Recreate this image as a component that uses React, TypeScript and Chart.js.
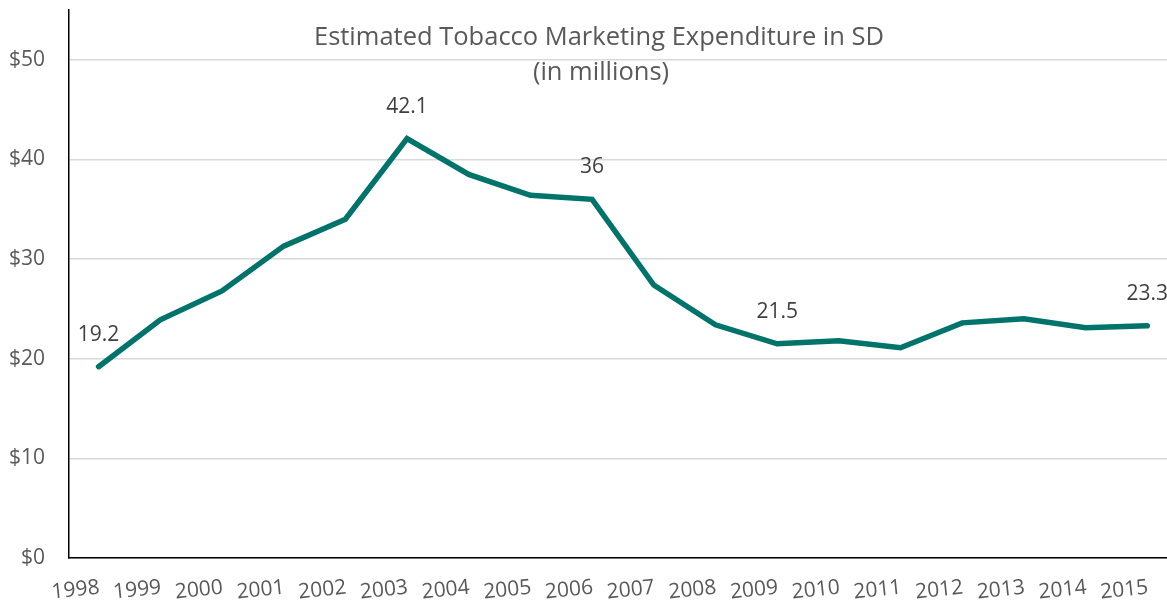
import React, { useEffect, useRef } from "react";
import { Chart, registerables } from "chart.js";

Chart.register(...registerables);

const years = [1998, 1999, 2000, 2001, 2002, 2003, 2004, 2005, 2006, 2007, 2008, 2009, 2010, 2011, 2012, 2013, 2014, 2015];
const spending = [19.2, 23.9, 26.8, 31.3, 34.0, 42.1, 38.5, 36.4, 36.0, 27.4, 23.4, 21.5, 21.8, 21.1, 23.6, 24.0, 23.1, 23.3];
const labelledYears = [1998, 2003, 2006, 2009, 2015];
const yTicks = [0, 10, 20, 30, 40, 50];
const titleLines = ["Estimated Tobacco Marketing Expenditure in SD", "(in millions)"];

const FONT = "'Open Sans', 'Noto Sans', sans-serif";

const overlayPlugin = {
  id: "overlay",
  afterDraw(chart: any) {
    const ctx = chart.ctx;
    const xs = chart.scales.x;
    ctx.save();
    // title
    ctx.fillStyle = "#595959";
    ctx.font = `25.5px ${FONT}`;
    ctx.textAlign = "center";
    ctx.textBaseline = "alphabetic";
    ctx.fillText(titleLines[0], 599, 45);
    ctx.fillText(titleLines[1], 601, 80);
    // x labels (slightly tilted, shifted left of points)
    ctx.font = `21px ${FONT}`;
    ctx.textBaseline = "middle";
    years.forEach((yr) => {
      const x = xs.getPixelForValue(yr) - 23;
      ctx.save();
      ctx.translate(x, 590);
      ctx.rotate((-6 * Math.PI) / 180);
      ctx.fillText(String(yr), 0, 0);
      ctx.restore();
    });
    // data labels
    const meta = chart.getDatasetMeta(0);
    ctx.fillStyle = "#404040";
    ctx.font = `21px ${FONT}`;
    labelledYears.forEach((yr) => {
      const i = years.indexOf(yr);
      const pt = meta.data[i];
      ctx.fillText(String(spending[i]), pt.x, pt.y - 32);
    });
    ctx.restore();
  },
};

export default function App() {
  const ref = useRef<HTMLCanvasElement>(null);
  useEffect(() => {
    document.body.style.margin = "0";
    const chart = new Chart(ref.current!, {
      type: "line",
      data: {
        datasets: [
          {
            data: years.map((y, i) => ({ x: y, y: spending[i] })),
            borderColor: "#00736B",
            borderWidth: 5.5,
            pointRadius: 0,
            borderCapStyle: "round",
            borderJoinStyle: "miter",
            tension: 0,
            fill: false,
          },
        ],
      },
      options: {
        animation: false,
        responsive: false,
        devicePixelRatio: 1,
        layout: { padding: { top: 10, right: 0, left: 0, bottom: 0 } },
        plugins: { legend: { display: false }, tooltip: { enabled: false }, title: { display: false } },
        scales: {
          x: {
            type: "linear",
            min: 1997.52,
            max: 2015.32,
            grid: { display: false },
            border: { display: true, color: "#000000", width: 1.5 },
            ticks: { display: false },
            afterFit: (s: any) => {
              s.height = 47;
              s.paddingLeft = 0;
              s.paddingRight = 0;
            },
          },
          y: {
            min: 0,
            max: 55,
            afterBuildTicks: (s: any) => {
              s.ticks = yTicks.map((v) => ({ value: v }));
            },
            grid: { color: "#D9D9D9", lineWidth: 1.5, drawTicks: false },
            border: { display: true, color: "#000000", width: 1.5 },
            ticks: {
              padding: 24,
              color: "#595959",
              font: { family: FONT, size: 21 },
              callback: (v: any) => "$" + v,
            },
            afterFit: (s: any) => {
              s.width = 69;
              s.paddingTop = 0;
              s.paddingBottom = 0;
            },
          },
        },
      },
      plugins: [overlayPlugin],
    });
    return () => chart.destroy();
  }, []);
  return <canvas ref={ref} width={1167} height={605} style={{ display: "block" }} />;
}
